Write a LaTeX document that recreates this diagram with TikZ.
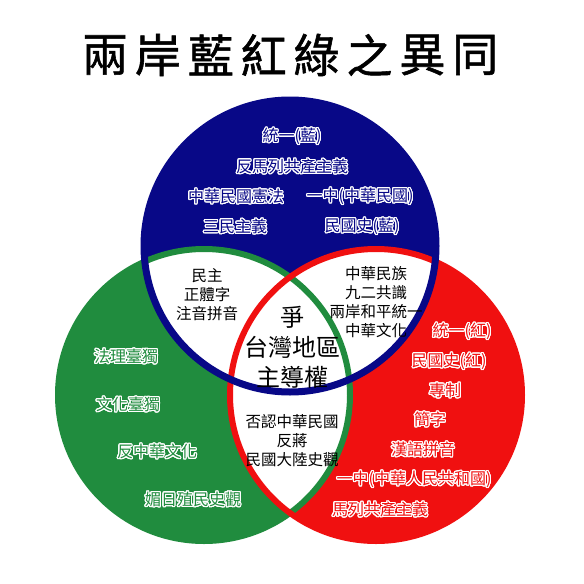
\documentclass[tikz,border=0pt]{standalone}
\usepackage{fontspec}
\usepackage{contour}
\contourlength{1.1pt}
\contournumber{24}
\newfontfamily\cjk{Noto Sans CJK TC}
\newfontfamily\cjktitle{Noto Sans CJK TC}[FakeBold=1.2]
\definecolor{navy}{RGB}{8,8,135}
\definecolor{grn}{RGB}{32,140,62}
\definecolor{rd}{RGB}{240,16,16}
\newcommand{\ol}[1]{\contour{white}{#1}}
\begin{document}
\begin{tikzpicture}[x=1pt,y=-1pt,
  ttl/.style={font=\cjktitle\fontsize{46}{46}\selectfont, text=black, inner sep=0pt},
  bt/.style={font=\cjk\fontsize{16}{16}\selectfont, text=navy, inner sep=0pt},
  gt/.style={font=\cjk\fontsize{16}{16}\selectfont, text=grn, inner sep=0pt},
  rt/.style={font=\cjk\fontsize{16}{16}\selectfont, text=rd, inner sep=0pt},
  kt/.style={font=\cjk\fontsize{15.5}{19}\selectfont, text=black, align=center, inner sep=0pt},
  ct/.style={font=\cjk\fontsize{24}{30}\selectfont, text=black, align=center, inner sep=0pt}]
\useasboundingbox (0,0) rectangle (584,584);
\fill[white] (0,0) rectangle (584,584);
\coordinate (B) at (290,246);
\coordinate (G) at (204,395);
\coordinate (R) at (376,395);
% fills
\fill[navy] (B) circle (146pt);
\fill[grn] (G) circle (146pt);
\fill[rd] (R) circle (146pt);
\begin{scope}
  \clip (B) circle (146pt);
  \fill[white] (G) circle (146pt);
  \fill[white] (R) circle (146pt);
\end{scope}
\begin{scope}
  \clip (G) circle (146pt);
  \fill[white] (R) circle (146pt);
\end{scope}
% rings
\draw[grn, line width=6pt] (G) circle (146pt);
\draw[rd, line width=6pt] (R) circle (146pt);
\draw[navy, line width=7pt] (B) circle (146pt);
% title
\foreach \c [count=\i from 0] in {兩,岸,藍,紅,綠,之,異,同}
  \node[ttl] (t\i) at (105+52.9*\i,55) {\c};
% blue region
\node[bt] (b1) at (292,137) {\ol{統一(藍)}};
\node[bt] (b2) at (292,167) {\ol{反馬列共產主義}};
\node[bt] (b3) at (236,197) {\ol{中華民國憲法}};
\node[bt] (b4) at (360,197) {\ol{一中(中華民國)}};
\node[bt] (b5) at (235,227) {\ol{三民主義}};
\node[bt] (b6) at (362,227) {\ol{民國史(藍)}};
% green region
\node[gt] (g1) at (126,357) {\ol{法理臺獨}};
\node[gt] (g2) at (128,405) {\ol{文化臺獨}};
\node[gt] (g3) at (157,452) {\ol{反中華文化}};
\node[gt] (g4) at (193,500) {\ol{媚日殖民史觀}};
% red region
\node[rt] (r1) at (462,332) {\ol{統一(紅)}};
\node[rt] (r2) at (449,362) {\ol{民國史(紅)}};
\node[rt] (r3) at (445,391) {\ol{專制}};
\node[rt] (r4) at (430,420) {\ol{簡字}};
\node[rt] (r5) at (423,450) {\ol{漢語拼音}};
\node[rt] (r6) at (414,480) {\ol{一中(中華人民共和國)}};
\node[rt] (r7) at (380,510) {\ol{馬列共產主義}};
% lenses
\node[kt] (bg) at (207,295) {民主\\正體字\\注音拼音};
\node[kt] (br) at (376,302) {中華民族\\九二共識\\兩岸和平統一\\中華文化};
\node[kt] (gr) at (292,441) {否認中華民國\\反蔣\\民國大陸史觀};
\node[ct] (ctr) at (292,347) {爭\\台灣地區\\主導權};
\end{tikzpicture}
\end{document}
